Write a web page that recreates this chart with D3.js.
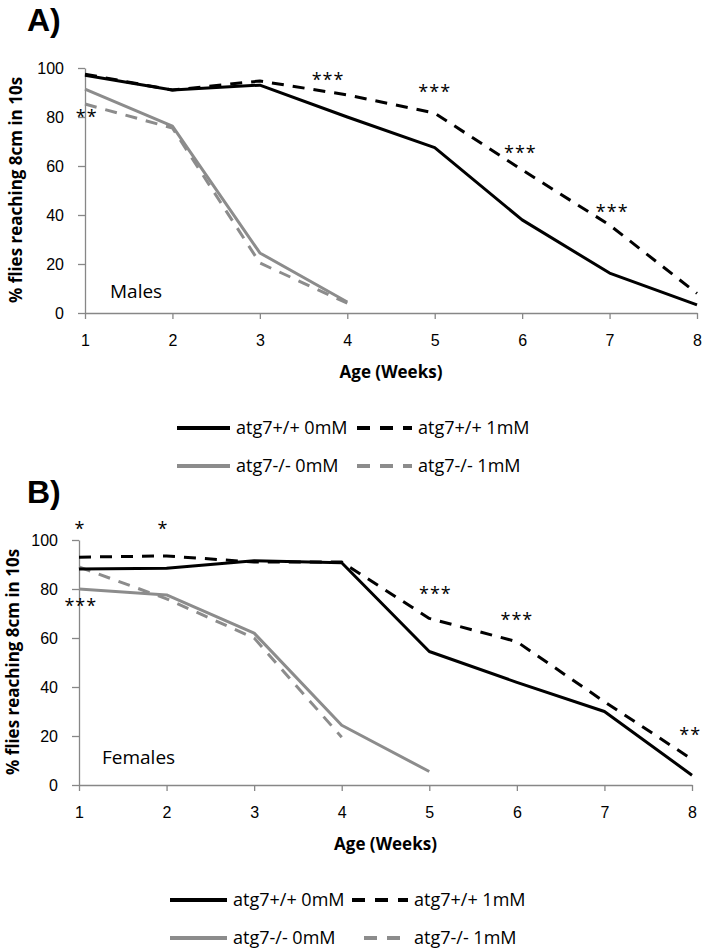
<!DOCTYPE html>
<html>
<head>
<meta charset="utf-8">
<script src="https://cdn.jsdelivr.net/npm/d3@7"></script>
<style>
  body { margin: 0; background: #fff; }
  svg { display: block; font-family: "Open Sans", sans-serif; }
</style>
</head>
<body>
<div id="chart"></div>
<script>
// weeks on the x axis
var weeks = [1, 2, 3, 4, 5, 6, 7, 8];
var yTicks = [0, 20, 40, 60, 80, 100];

var seriesNames = ["atg7+/+ 0mM", "atg7+/+ 1mM", "atg7-/- 0mM", "atg7-/- 1mM"];

// Males (panel A), % flies reaching 8cm in 10s
var malesWtCtrl = [97, 91, 93, 80, 67.5, 38, 16.3, 3.3];
var malesWtDrug = [97.5, 91, 94.7, 89, 81.6, 58.4, 35.9, 8];
var malesKoCtrl = [91.4, 76.3, 24.5, 4.5];
var malesKoDrug = [85.3, 75.5, 20.4, 4];

// Females (panel B)
var femalesWtCtrl = [88.2, 88.5, 91.5, 90.7, 54.5, 41.9, 30, 4];
var femalesWtDrug = [93, 93.5, 91, 91, 68, 58.5, 34, 10.5];
var femalesKoCtrl = [80, 77.6, 62, 24.4, 5.5];
var femalesKoDrug = [89, 76, 60, 19.5];

// significance marks: label, week, value
var malesStars = ["**", "***", "***", "***", "***"];
var malesStarWeek = [1.02, 3.78, 5.0, 5.98, 7.03];
var malesStarValue = [81.6, 96.7, 91.8, 66.9, 42.9];

var femalesStars = ["*", "*", "***", "***", "***", "**"];
var femalesStarWeek = [1.01, 1.96, 1.02, 5.07, 6.0, 7.98];
var femalesStarValue = [106.1, 106.1, 74.8, 79.7, 69.1, 22.0];

var black = "#000000", grey = "#8c8c8c", axisGrey = "#878787";
var styles = [
    {color: black, dash: null},
    {color: black, dash: "12,9"},
    {color: grey, dash: null},
    {color: grey, dash: "12,9"}
];

var svg = d3.select("#chart").append("svg")
    .attr("width", 704)
    .attr("height", 950);

function drawPanel(opt) {
    var g = svg.append("g").attr("transform", "translate(0," + opt.dy + ")");

    var x = d3.scaleLinear().domain([1, 8]).range([opt.left, opt.right]);
    var y = d3.scaleLinear().domain([0, 100]).range([313, 68]);

    g.append("text")
        .attr("x", 27).attr("y", 31)
        .style("font-family", "Liberation Sans, Arial, sans-serif")
        .style("font-weight", "bold")
        .style("font-size", "32px")
        .text(opt.letter);

    // axes
    var xAxis = g.append("g")
        .attr("transform", "translate(0," + y(0) + ")")
        .call(d3.axisBottom(x).tickValues(weeks).tickFormat(d3.format("d"))
            .tickSize(6).tickSizeOuter(0).tickPadding(16));
    var yAxis = g.append("g")
        .attr("transform", "translate(" + x(1) + ",0)")
        .call(d3.axisLeft(y).tickValues(yTicks).tickSize(7).tickSizeOuter(0).tickPadding(14));

    [xAxis, yAxis].forEach(function(a) {
        a.selectAll("path, line").attr("stroke", axisGrey).attr("stroke-width", 1.3);
        a.selectAll("text").style("font-size", "16px").attr("fill", "#000");
    });

    g.append("text")
        .attr("x", (x(1) + x(8)) / 2).attr("y", 378)
        .attr("text-anchor", "middle")
        .style("font-weight", "bold").style("font-size", "17px")
        .text("Age (Weeks)");

    g.append("text")
        .attr("transform", "translate(" + opt.titleX + ",190) rotate(-90)")
        .attr("text-anchor", "middle")
        .attr("dy", "0.35em")
        .style("font-weight", "bold").style("font-size", "17px")
        .text("% flies reaching 8cm in 10s");

    g.append("text")
        .attr("x", opt.sexX).attr("y", opt.sexY)
        .style("font-size", "19px")
        .text(opt.sex);

    // lines, drawn back to front
    var line = d3.line()
        .x(function(d, i) { return x(weeks[i]); })
        .y(function(d) { return y(d); });

    [3, 2, 1, 0].forEach(function(k) {
        g.append("path")
            .datum(opt.series[k])
            .attr("d", line)
            .attr("fill", "none")
            .attr("stroke", styles[k].color)
            .attr("stroke-width", 3)
            .attr("stroke-linejoin", "round")
            .attr("stroke-dasharray", styles[k].dash);
    });

    g.selectAll(".star")
        .data(opt.stars)
        .enter().append("text")
        .attr("class", "star")
        .attr("x", function(d, i) { return x(opt.starWeek[i]); })
        .attr("y", function(d, i) { return y(opt.starValue[i]) + 10; })
        .attr("text-anchor", "middle")
        .style("font-size", "18px")
        .style("letter-spacing", "1px")
        .text(function(d) { return d; });

    // legend
    var rows = [[0, 1], [2, 3]];
    rows.forEach(function(r, ri) {
        var ly = 428 + ri * 38;
        r.forEach(function(k, ci) {
            var x0 = ci === 0 ? opt.leg[0] : opt.leg[2 + ri];
            var x1 = ci === 0 ? opt.leg[1] : opt.leg[4];
            g.append("line")
                .attr("x1", x0).attr("x2", x1)
                .attr("y1", ly).attr("y2", ly)
                .attr("stroke", styles[k].color)
                .attr("stroke-width", 4)
                .attr("stroke-dasharray", styles[k].dash ? "13,10" : null);
            g.append("text")
                .attr("x", x1 + 6).attr("y", ly + 6)
                .style("font-size", "18px")
                .text(seriesNames[k]);
        });
    });
}

drawPanel({
    dy: 0, letter: "A)", left: 85, right: 697, titleX: 16,
    sex: "Males", sexX: 110, sexY: 298,
    series: [malesWtCtrl, malesWtDrug, malesKoCtrl, malesKoDrug],
    stars: malesStars, starWeek: malesStarWeek, starValue: malesStarValue,
    leg: [177, 230, 357, 357, 412]
});

drawPanel({
    dy: 472, letter: "B)", left: 79, right: 692, titleX: 13,
    sex: "Females", sexX: 102, sexY: 292,
    series: [femalesWtCtrl, femalesWtDrug, femalesKoCtrl, femalesKoDrug],
    stars: femalesStars, starWeek: femalesStarWeek, starValue: femalesStarValue,
    leg: [170, 227, 352, 364, 408]
});
</script>
</body>
</html>
